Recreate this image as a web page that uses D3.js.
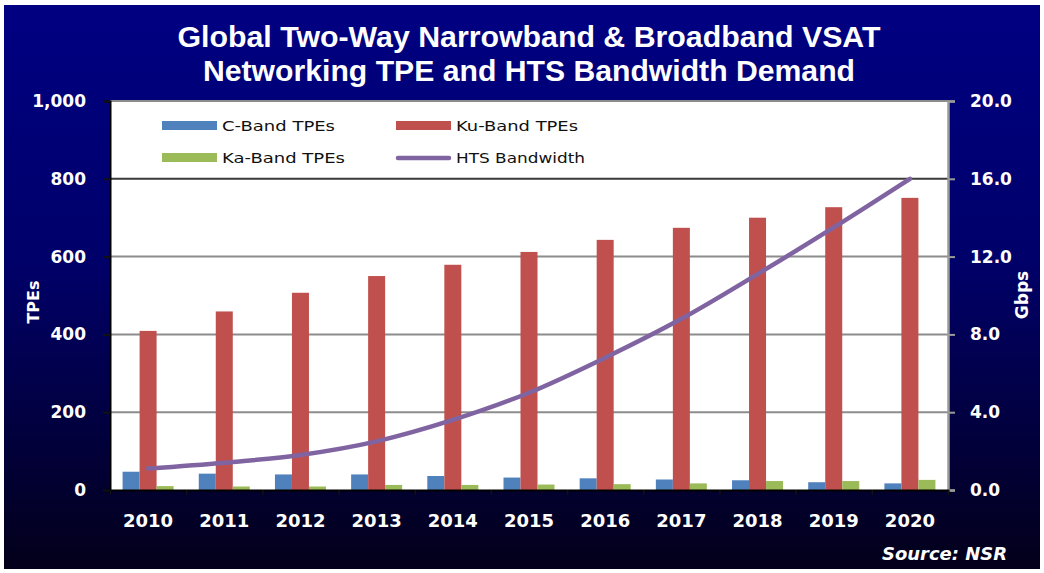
<!DOCTYPE html>
<html>
<head>
<meta charset="utf-8">
<script src="https://cdn.jsdelivr.net/npm/d3@7/dist/d3.min.js"></script>
<style>
  html, body { margin: 0; padding: 0; background: #ffffff; }
  svg { display: block; }
</style>
</head>
<body>
<svg id="chart" width="1044" height="573"></svg>
<script>
// Years on the category axis
const years = ["2010", "2011", "2012", "2013", "2014", "2015", "2016", "2017", "2018", "2019", "2020"];
// Terminal equipment (TPEs) per band
const cBand  = [47, 42, 40, 40, 36, 32, 30, 27, 25, 20, 17];
const kuBand = [409, 459, 507, 550, 579, 612, 643, 674, 700, 727, 751];
const kaBand = [10, 9, 9, 13, 13, 14, 15, 17, 23, 23, 26];
// HTS bandwidth demand, Gbps
const htsBandwidth = [1.1, 1.4, 1.8, 2.5, 3.6, 5.0, 6.8, 8.8, 11.1, 13.5, 16.0];
// Axis ticks
const leftTicks = [0, 200, 400, 600, 800, 1000];
const rightTicks = [0, 4, 8, 12, 16, 20];

const seriesNames = ["C-Band TPEs", "Ku-Band TPEs", "Ka-Band TPEs"];
const seriesValues = [cBand, kuBand, kaBand];
const seriesColors = ["#4F81BD", "#C0504D", "#9BBB59"];
const lineColor = "#8064A2";

const svg = d3.select("#chart");
const W = 1044, H = 573;
const plot = { left: 110, right: 948, top: 101, bottom: 490 };

// Background panel with a navy-to-black gradient
const defs = svg.append("defs");
const grad = defs.append("linearGradient").attr("id", "panelGrad")
  .attr("x1", 0).attr("y1", 0).attr("x2", 0).attr("y2", 1);
grad.append("stop").attr("offset", "0%").attr("stop-color", "#000082");
grad.append("stop").attr("offset", "45%").attr("stop-color", "#00006a");
grad.append("stop").attr("offset", "100%").attr("stop-color", "#03001a");

svg.append("rect").attr("x", 0).attr("y", 0).attr("width", W).attr("height", H).attr("fill", "#ffffff");
svg.append("rect").attr("x", 4).attr("y", 5).attr("width", W - 8).attr("height", H - 9)
  .attr("fill", "url(#panelGrad)");

// Scales
const x = d3.scaleBand().domain(years).range([plot.left, plot.right]).padding(0);
const xSub = d3.scaleBand().domain([0, 1, 2]).range([0, x.bandwidth()])
  .paddingInner(0).paddingOuter(0.74);
const yL = d3.scaleLinear().domain([0, 1000]).range([plot.bottom, plot.top]);
const yR = d3.scaleLinear().domain([0, 20]).range([plot.bottom, plot.top]);
const xEdge = d3.scaleLinear().domain([0, years.length]).range([plot.left, plot.right]);

// Plot area
svg.append("rect")
  .attr("x", plot.left).attr("y", plot.top)
  .attr("width", plot.right - plot.left).attr("height", plot.bottom - plot.top)
  .attr("fill", "#ffffff");

// Gridlines
svg.append("g").selectAll("line")
  .data(leftTicks.filter(d => d > 0))
  .join("line")
  .attr("x1", plot.left).attr("x2", plot.right)
  .attr("y1", d => yL(d)).attr("y2", d => yL(d))
  .attr("stroke", d => d === 800 ? "#3a3a3a" : "#8c8c8c")
  .attr("stroke-width", 2);

// Bars
const groups = svg.append("g").selectAll("g")
  .data(seriesValues)
  .join("g")
  .attr("fill", (d, i) => seriesColors[i]);
groups.selectAll("rect")
  .data((vals, si) => vals.map((v, i) => ({ v, i, si })))
  .join("rect")
  .attr("x", d => x(years[d.i]) + xSub(d.si))
  .attr("width", xSub.bandwidth())
  .attr("y", d => yL(d.v))
  .attr("height", d => yL(0) - yL(d.v));

// HTS bandwidth line (smoothed)
const line = d3.line()
  .x((d, i) => x(years[i]) + x.bandwidth() / 2)
  .y(d => yR(d))
  .curve(d3.curveCatmullRom.alpha(0.5));
svg.append("path")
  .datum(htsBandwidth)
  .attr("d", line)
  .attr("fill", "none")
  .attr("stroke", lineColor)
  .attr("stroke-width", 4.5)
  .attr("stroke-linecap", "round")
  .attr("stroke-linejoin", "round");

const wideFont = "'DejaVu Sans', Verdana, sans-serif";

// Legend
const legend = svg.append("g").attr("font-family", wideFont)
  .attr("font-size", 14).attr("fill", "#111");
const legendItems = [
  { name: seriesNames[0], color: seriesColors[0], type: "bar", x: 162, y: 126, w: 113 },
  { name: seriesNames[1], color: seriesColors[1], type: "bar", x: 396, y: 126, w: 122 },
  { name: seriesNames[2], color: seriesColors[2], type: "bar", x: 162, y: 158, w: 123 },
  { name: "HTS Bandwidth", color: lineColor, type: "line", x: 396, y: 158, w: 129 }
];
legendItems.forEach(it => {
  if (it.type === "bar") {
    legend.append("rect").attr("x", it.x).attr("y", it.y - 5)
      .attr("width", 55).attr("height", 9).attr("fill", it.color);
  } else {
    legend.append("line").attr("x1", it.x + 2).attr("x2", it.x + 53)
      .attr("y1", it.y).attr("y2", it.y)
      .attr("stroke", it.color).attr("stroke-width", 4.5).attr("stroke-linecap", "round");
  }
  legend.append("text").attr("x", it.x + 60).attr("y", it.y).attr("dy", "0.36em")
    .attr("textLength", it.w).attr("lengthAdjust", "spacingAndGlyphs").text(it.name);
});

// Plot frame: top edge in grey
svg.append("line").attr("x1", plot.left).attr("x2", plot.right)
  .attr("y1", plot.top).attr("y2", plot.top).attr("stroke", "#8c8c8c").attr("stroke-width", 2);

// Left axis
const axL = svg.append("g").attr("transform", `translate(${plot.left},0)`)
  .call(d3.axisLeft(yL).tickValues(leftTicks).tickFormat(d3.format(",")).tickSize(7).tickPadding(17));
axL.select(".domain").attr("stroke", "#000").attr("stroke-width", 2);
axL.selectAll(".tick line").attr("stroke", "#111").attr("stroke-width", 2);
axL.selectAll("text").attr("fill", "#fff").attr("font-size", 17).attr("font-weight", "bold")
  .attr("font-family", wideFont);

// Right axis
const axR = svg.append("g").attr("transform", `translate(${plot.right},0)`)
  .call(d3.axisRight(yR).tickValues(rightTicks).tickFormat(d3.format(".1f")).tickSize(7).tickPadding(15));
axR.select(".domain").attr("stroke", "#9a9a9a").attr("stroke-width", 2.5);
axR.selectAll(".tick line").attr("stroke", "#9a9a9a").attr("stroke-width", 2);
axR.selectAll("text").attr("fill", "#fff").attr("font-size", 17).attr("font-weight", "bold")
  .attr("font-family", wideFont);

// Bottom axis: boundary ticks and year labels
const axB = svg.append("g").attr("transform", `translate(0,${plot.bottom})`)
  .call(d3.axisBottom(xEdge).tickValues(d3.range(years.length + 1)).tickFormat("").tickSize(5));
axB.select(".domain").attr("stroke", "#000").attr("stroke-width", 2);
axB.selectAll(".tick line").attr("stroke", "#111").attr("stroke-width", 1.5);

const axBL = svg.append("g").attr("transform", `translate(0,${plot.bottom})`)
  .call(d3.axisBottom(x).tickSize(0).tickPadding(24));
axBL.select(".domain").remove();
axBL.selectAll("text").attr("fill", "#fff").attr("font-size", 18).attr("font-weight", "bold")
  .attr("font-family", wideFont);

// Axis titles
svg.append("text").attr("transform", "translate(39,302) rotate(-90)")
  .attr("text-anchor", "middle").attr("fill", "#fff").attr("font-size", 16).attr("font-weight", "bold")
  .attr("font-family", wideFont).text("TPEs");
svg.append("text").attr("transform", "translate(1028,295) rotate(-90)")
  .attr("text-anchor", "middle").attr("fill", "#fff").attr("font-size", 17).attr("font-weight", "bold")
  .attr("font-family", wideFont).text("Gbps");

// Title, two lines
const titleFont = "'Liberation Sans Narrow', 'Arial Narrow', 'Liberation Sans', Arial, sans-serif";
svg.append("text").attr("x", 529).attr("y", 47).attr("text-anchor", "middle")
  .attr("fill", "#fff").attr("font-size", 29).attr("font-weight", "bold").attr("font-family", titleFont)
  .attr("textLength", 703).attr("lengthAdjust", "spacingAndGlyphs")
  .text("Global Two-Way Narrowband & Broadband VSAT");
svg.append("text").attr("x", 529).attr("y", 81).attr("text-anchor", "middle")
  .attr("fill", "#fff").attr("font-size", 29).attr("font-weight", "bold").attr("font-family", titleFont)
  .attr("textLength", 652).attr("lengthAdjust", "spacingAndGlyphs")
  .text("Networking TPE and HTS Bandwidth Demand");

// Source note
svg.append("text").attr("x", 882).attr("y", 560)
  .attr("fill", "#fff").attr("font-size", 17).attr("font-weight", "bold").attr("font-style", "italic")
  .attr("font-family", wideFont).attr("textLength", 125).attr("lengthAdjust", "spacingAndGlyphs")
  .text("Source: NSR");
</script>
</body>
</html>
